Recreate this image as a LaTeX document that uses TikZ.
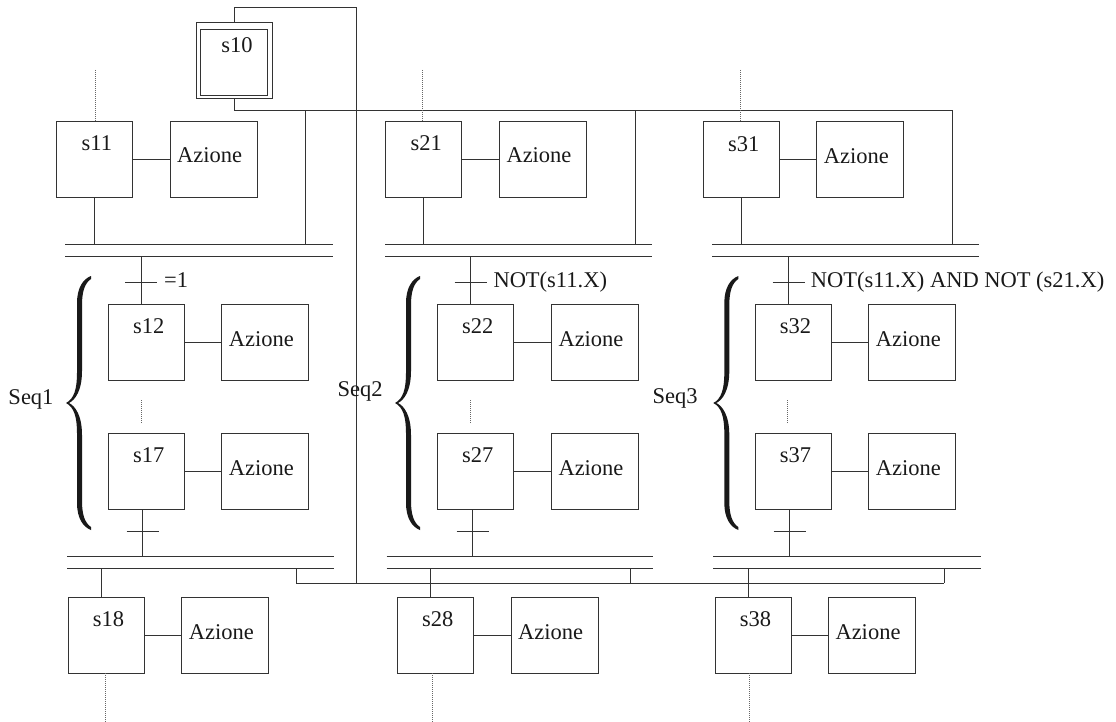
\documentclass[tikz,border=0pt]{standalone}
\usepackage{fontspec}
\setmainfont{Liberation Serif}
\usetikzlibrary{calc}

% step box with its name written near the top
\newcommand\gstep[4]{%
  \node[stepbox] (#1) at (#2,#3) {};
  \node[txt, anchor=base] (#1t) at ($(#1.north)+(2.5,29.5)$) {#4};}
% action box linked to the step on its left
\newcommand\gact[4]{%
  \node[actbox] (#1) at (#2,#3) {};
  \node[txt, anchor=base west] (#1t) at ($(#1.north west)+(7,41.7)$) {Azione};
  \draw[ln] (#4.east) -- (#1.west);}
% double synchronisation bar: name, left x, right x, y of upper line
\newcommand\gbar[4]{%
  \coordinate (#1L) at (#2,#4); \coordinate (#1R) at (#3,#4);
  \coordinate (#1l) at (#2,#4+12); \coordinate (#1r) at (#3,#4+12);
  \draw[ln] (#1L) -- (#1R);
  \draw[ln] (#1l) -- (#1r);}
% transition mark centred on a point
\newcommand\gtick[1]{\draw[ln] ($(#1)+(-16,0)$) -- ($(#1)+(16,0)$);}
% large curly brace, tip at the given point
\newcommand\gbrace[2]{%
  \fill[black!90, shift={(#1,#2)}]
    (0,0) .. controls (8,-4) and (11,-14) .. (11,-30) -- (11,-100)
    .. controls (11,-115) and (17,-124) .. (25,-127) -- (25,-124)
    .. controls (19,-120) and (16,-112) .. (16,-98) -- (16,-32)
    .. controls (16,-12) and (9,-3) .. (3,0)
    .. controls (9,3) and (16,12) .. (16,32) -- (16,98)
    .. controls (16,112) and (19,120) .. (25,124) -- (25,127)
    .. controls (17,124) and (11,115) .. (11,100) -- (11,30)
    .. controls (11,14) and (8,4) .. (0,0) -- cycle;}

\begin{document}
\begin{tikzpicture}[x=1pt,y=-1pt,
  ln/.style={line width=0.9pt, draw=black!80},
  stepbox/.style={draw=black!80, line width=0.9pt, minimum width=76pt,
    minimum height=76pt, inner sep=0pt, outer sep=0pt, anchor=north west},
  actbox/.style={stepbox, minimum width=87pt},
  txt/.style={font=\fontsize{22.5}{27}\selectfont, inner sep=0pt, text=black!90},
  dots/.style={line width=0.9pt, draw=black!60, dash pattern=on 1pt off 1pt}]
\useasboundingbox (0,0) rectangle (1116,722);

% ---------- initial step ----------
\node[stepbox, minimum width=76.7pt, minimum height=76.7pt] (s10) at (196,22) {};
\node[stepbox, minimum width=67pt, minimum height=66.4pt] (s10in) at (200.7,29.3) {};
\node[txt, anchor=base] (s10t) at (237,52.3) {s10};

\coordinate (busL) at (296,583.3);
\coordinate (busM) at (356,583.3);
\coordinate (busR) at (944,583.3);
\draw[ln] (busL) -- (busR);
\draw[ln] (s10.north) -- ++(0,-15) -| (busM);

\coordinate (j1) at (305.7,110.7);
\coordinate (j2) at (635.7,110.7);
\coordinate (j3) at (952.7,110.7);
\draw[ln] (s10.south) |- (j3);

% ---------- sequence 1 ----------
\coordinate (d11) at (95,70);
\draw[dots] (d11) -- ++(0,51);
\gstep{s11}{56.3}{121.3}{s11}
\gact{a11}{170}{121.3}{s11}
\gbar{u1}{65}{333}{244}
\draw[ln] (s11.south) -- (s11.south |- u1L);
\draw[ln] (j1) -- (j1 |- u1L);

\gstep{s12}{108.3}{304.3}{s12}
\gact{a12}{221.7}{304.3}{s12}
\coordinate (t12) at (141,282);
\draw[ln] (t12 |- u1l) -- (t12 |- s12.north);
\gtick{t12}
\node[txt, anchor=base west] (c12) at (164,287) {=1};

\coordinate (e1) at (141,400);
\draw[dots] (e1) -- ++(0,23);
\gstep{s17}{108.3}{433.3}{s17}
\gact{a17}{221.7}{433.3}{s17}
\gbar{w1}{67}{334}{556}
\coordinate (t17) at (142.5,531);
\draw[ln] (t17 |- s17.south) -- (t17 |- w1L);
\gtick{t17}

\gstep{s18}{68}{597.3}{s18}
\gact{a18}{181.7}{597.3}{s18}
\coordinate (k18) at (101,568);
\draw[ln] (k18) -- (k18 |- s18.north);
\coordinate (f18) at (105,673);
\draw[dots] (f18) -- ++(0,49);
\draw[ln] (busL |- w1l) -- (busL);

\gbrace{66}{403}
\node[txt, anchor=base] (q1) at (31,404) {Seq1};

% ---------- sequence 2 ----------
\coordinate (d21) at (422.3,70);
\draw[dots] (d21) -- ++(0,51);
\gstep{s21}{385.7}{121.3}{s21}
\gact{a21}{499.3}{121.3}{s21}
\gbar{u2}{385}{652.3}{244}
\draw[ln] (s21.south) -- (s21.south |- u2L);
\draw[ln] (j2) -- (j2 |- u2L);

\gstep{s22}{437.3}{304.3}{s22}
\gact{a22}{551.3}{304.3}{s22}
\coordinate (t22) at (470.7,282);
\draw[ln] (t22 |- u2l) -- (t22 |- s22.north);
\gtick{t22}
\node[txt, anchor=base west] (c22) at (493.3,287) {NOT(s11.X)};

\coordinate (e2) at (470.3,400);
\draw[dots] (e2) -- ++(0,23);
\gstep{s27}{437.3}{433.3}{s27}
\gact{a27}{551.3}{433.3}{s27}
\gbar{w2}{386.7}{653.3}{556}
\coordinate (t27) at (472.5,531);
\draw[ln] (t27 |- s27.south) -- (t27 |- w2L);
\gtick{t27}

\gstep{s28}{397.3}{597.3}{s28}
\gact{a28}{511}{597.3}{s28}
\coordinate (k28) at (430.7,568);
\draw[ln] (k28) -- (k28 |- s28.north);
\coordinate (f28) at (432.7,673);
\draw[dots] (f28) -- ++(0,49);
\coordinate (g2) at (630,583.3);
\draw[ln] (g2 |- w2l) -- (g2);

\gbrace{395}{403}
\node[txt, anchor=base] (q2) at (360,396) {Seq2};

% ---------- sequence 3 ----------
\coordinate (d31) at (740.3,70);
\draw[dots] (d31) -- ++(0,51.7);
\gstep{s31}{703.3}{121.7}{s31}
\gact{a31}{816.7}{121.7}{s31}
\gbar{u3}{712}{979.3}{244}
\draw[ln] (s31.south) -- (s31.south |- u3L);
\draw[ln] (j3) -- (j3 |- u3L);

\gstep{s32}{755}{304.3}{s32}
\gact{a32}{868.7}{304.3}{s32}
\coordinate (t32) at (788.5,282);
\draw[ln] (t32 |- u3l) -- (t32 |- s32.north);
\gtick{t32}
\node[txt, anchor=base west] (c32) at (810.7,287) {NOT(s11.X) AND NOT (s21.X)};

\coordinate (e3) at (787.7,400);
\draw[dots] (e3) -- ++(0,23);
\gstep{s37}{755}{433.3}{s37}
\gact{a37}{868.7}{433.3}{s37}
\gbar{w3}{713.3}{981}{556}
\coordinate (t37) at (789.5,531);
\draw[ln] (t37 |- s37.south) -- (t37 |- w3L);
\gtick{t37}

\gstep{s38}{715}{597.3}{s38}
\gact{a38}{828.3}{597.3}{s38}
\coordinate (k38) at (748.3,568);
\draw[ln] (k38) -- (k38 |- s38.north);
\coordinate (f38) at (749.3,673);
\draw[dots] (f38) -- ++(0,49);
\draw[ln] (busR |- w3l) -- (busR);

\gbrace{713.3}{403}
\node[txt, anchor=base] (q3) at (675,403) {Seq3};
\end{tikzpicture}
\end{document}
